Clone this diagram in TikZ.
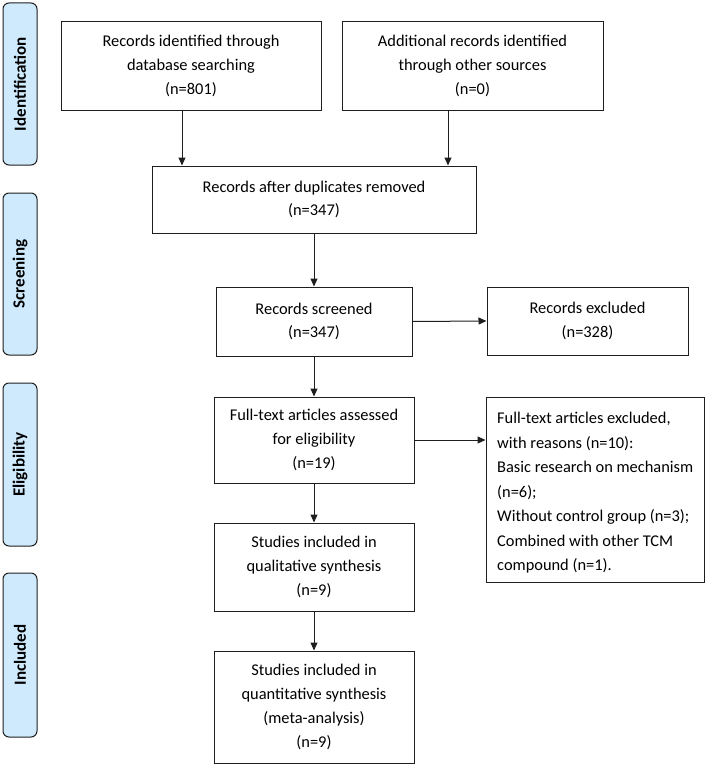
\documentclass[tikz,border=0pt]{standalone}
\usepackage{fontspec}
\setmainfont{Carlito}
\usetikzlibrary{arrows.meta,calc}
\definecolor{sidefill}{RGB}{207,234,252}
\definecolor{linecol}{RGB}{30,30,30}
\tikzset{
  box/.style={draw=linecol,line width=1pt,rectangle,align=center,inner sep=2pt,
    font=\fontsize{16.4}{23.8}\selectfont},
  boxtext/.style={align=left,inner sep=0pt,font=\fontsize{16.4}{24.5}\selectfont},
  side/.style={draw=linecol,line width=1pt,fill=sidefill,rounded corners=6pt,
    minimum width=34pt,rotate=90,font=\fontsize{17}{20}\selectfont\bfseries},
  arr/.style={draw=linecol,line width=1pt,-{Triangle[length=8pt,width=7pt]}}
}
\begin{document}
\begin{tikzpicture}[x=1pt,y=-1pt]
\useasboundingbox (0,0) rectangle (706,768);
% side labels
\node[side,minimum width=162pt,minimum height=34pt] (s1) at (20,84) {Identification};
\node[side,minimum width=162pt,minimum height=34pt] (s2) at (20,274) {Screening};
\node[side,minimum width=163pt,minimum height=34pt] (s3) at (20,464.5) {Eligibility};
\node[side,minimum width=164pt,minimum height=34pt] (s4) at (20,655) {Included};
% boxes
\node[box,minimum width=260pt,minimum height=88pt] (b1) at (191,66) {Records identified through\\database searching\\(n=801)};
\node[box,minimum width=261pt,minimum height=88pt] (b2) at (472.5,66) {Additional records identified\\through other sources\\(n=0)};
\node[box,minimum width=324pt,minimum height=67pt] (b3) at (314,199.5) {Records after duplicates removed\\(n=347)};
\node[box,minimum width=196pt,minimum height=69pt] (b4) at (314,321.5) {Records screened\\(n=347)};
\node[box,minimum width=201pt,minimum height=68pt] (b5) at (587.5,321) {Records excluded\\(n=328)};
\node[box,minimum width=200pt,minimum height=86pt] (b6) at (314,440) {Full-text articles assessed\\for eligibility\\(n=19)};
\node[box,minimum width=218pt,minimum height=185pt] (b7) at (595,489.5) {};
\node[boxtext,anchor=north west] (b7t) at (497,412) {Full-text articles excluded,\\with reasons (n=10):\\Basic research on mechanism\\(n=6);\\Without control group (n=3);\\Combined with other TCM\\compound (n=1).};
\node[box,minimum width=200pt,minimum height=88pt] (b8) at (314,567) {Studies included in\\qualitative synthesis\\(n=9)};
\node[box,minimum width=200pt,minimum height=112pt] (b9) at (314,707) {Studies included in\\quantitative synthesis\\(meta-analysis)\\(n=9)};
% arrow columns
\coordinate (c1) at (182,0);
\coordinate (c2) at (448,0);
% connectors
\draw[arr] (b1.south -| c1) -- (b3.north -| c1);
\draw[arr] (b2.south -| c2) -- (b3.north -| c2);
\draw[arr] (b3.south) -- (b4.north);
\draw[arr] (b4.east) -- (b5.west);
\draw[arr] (b4.south) -- (b6.north);
\draw[arr] (b6.east) -- (b7.west |- b6.east);
\draw[arr] (b6.south) -- (b8.north);
\draw[arr] (b8.south) -- (b9.north);
\end{tikzpicture}
\end{document}
